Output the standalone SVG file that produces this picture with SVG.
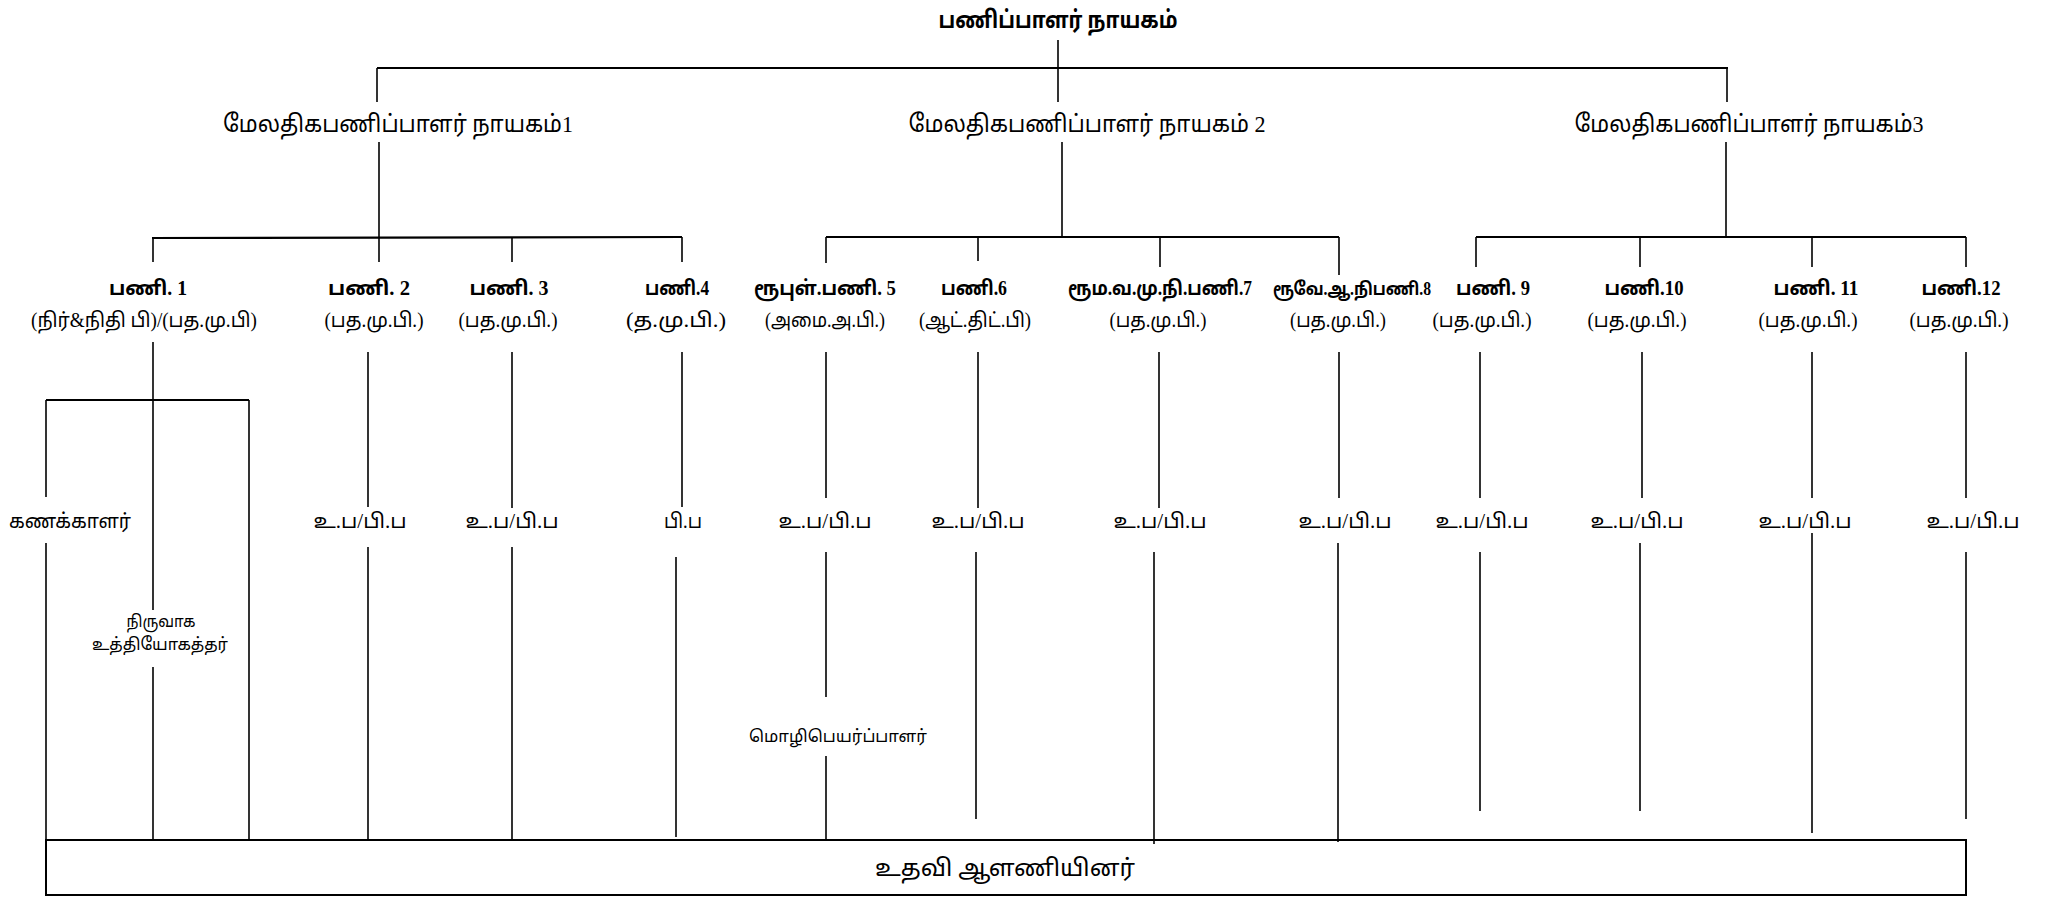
<svg xmlns="http://www.w3.org/2000/svg" width="2055" height="898" viewBox="0 0 2055 898">
<style>
text{font-family:"Liberation Serif","Noto Sans Tamil","Noto Serif Tamil",serif;fill:#000;text-anchor:middle}
.h0{font-size:24px;font-weight:bold}
.h1{font-size:24px}
.r1{font-size:20px;font-weight:bold}
.r1.tight{font-size:18px}
.r2{font-size:20px}
.lb{font-size:20px}
.sm{font-size:17px}
.ft{font-size:24px}
.ln line,.ln path{stroke:#000;stroke-width:1.6;fill:none}
.ln .hz{stroke-width:2.2}
</style>
<rect width="2055" height="898" fill="#fff"/>
<g id="connectors" class="ln">
<line x1="1058" y1="40" x2="1058" y2="102"/>
<line class="hz" x1="377" y1="68" x2="1728" y2="68"/>
<line x1="377" y1="68" x2="377" y2="102"/>
<line x1="1727" y1="68" x2="1727" y2="102"/>
<line x1="379" y1="142" x2="379" y2="262"/>
<line x1="1062" y1="142" x2="1062" y2="237"/>
<line x1="1726" y1="142" x2="1726" y2="237"/>
<line class="hz" x1="152" y1="238" x2="682" y2="237"/>
<line class="hz" x1="826" y1="237" x2="1339" y2="237"/>
<line class="hz" x1="1476" y1="237" x2="1966" y2="237"/>
<line x1="153" y1="238" x2="153" y2="262"/>
<line x1="512" y1="237" x2="512" y2="262"/>
<line x1="682" y1="237" x2="682" y2="262"/>
<line x1="826" y1="237" x2="826" y2="263"/>
<line x1="978" y1="237" x2="978" y2="261"/>
<line x1="1160" y1="237" x2="1160" y2="267"/>
<line x1="1339" y1="237" x2="1339" y2="275"/>
<line x1="1476" y1="237" x2="1476" y2="267"/>
<line x1="1640" y1="237" x2="1640" y2="267"/>
<line x1="1812" y1="237" x2="1812" y2="267"/>
<line x1="1966" y1="237" x2="1966" y2="267"/>
<line x1="153" y1="342" x2="153" y2="610"/>
<line class="hz" x1="46" y1="400" x2="249" y2="400"/>
<line x1="46" y1="400" x2="46" y2="497"/>
<line x1="46" y1="543" x2="46" y2="840"/>
<line x1="153" y1="667" x2="153" y2="840"/>
<line x1="249" y1="400" x2="249" y2="840"/>
<line x1="368" y1="352" x2="368" y2="507"/>
<line x1="368" y1="547" x2="368" y2="840"/>
<line x1="512" y1="352" x2="512" y2="508"/>
<line x1="512" y1="547" x2="512" y2="840"/>
<line x1="682" y1="352" x2="682" y2="507"/>
<line x1="676" y1="557" x2="676" y2="837"/>
<line x1="826" y1="352" x2="826" y2="498"/>
<line x1="826" y1="552" x2="826" y2="697"/>
<line x1="826" y1="756" x2="826" y2="840"/>
<line x1="978" y1="352" x2="978" y2="508"/>
<line x1="976" y1="552" x2="976" y2="819"/>
<line x1="1159" y1="352" x2="1159" y2="508"/>
<line x1="1154" y1="552" x2="1154" y2="844"/>
<line x1="1339" y1="352" x2="1339" y2="498"/>
<line x1="1338" y1="543" x2="1338" y2="842"/>
<line x1="1480" y1="352" x2="1480" y2="498"/>
<line x1="1480" y1="552" x2="1480" y2="811"/>
<line x1="1642" y1="352" x2="1642" y2="498"/>
<line x1="1640" y1="543" x2="1640" y2="811"/>
<line x1="1812" y1="352" x2="1812" y2="498"/>
<line x1="1812" y1="533" x2="1812" y2="833"/>
<line x1="1966" y1="352" x2="1966" y2="498"/>
<line x1="1966" y1="552" x2="1966" y2="819"/>
</g>
<g id="n-top"><text class="h0" x="1058" y="28" textLength="239" lengthAdjust="spacingAndGlyphs">பணிப்பாளர் நாயகம்</text></g>
<g id="n-md1"><text class="h1" x="398" y="132" textLength="350" lengthAdjust="spacingAndGlyphs">மேலதிகபணிப்பாளர் நாயகம்1</text></g>
<g id="n-md2"><text class="h1" x="1087" y="132" textLength="357" lengthAdjust="spacingAndGlyphs">மேலதிகபணிப்பாளர் நாயகம் 2</text></g>
<g id="n-md3"><text class="h1" x="1749" y="132" textLength="349" lengthAdjust="spacingAndGlyphs">மேலதிகபணிப்பாளர் நாயகம்3</text></g>
<g id="n-p1"><text class="r1" x="148" y="295" textLength="78" lengthAdjust="spacingAndGlyphs">பணி. 1</text><text class="r2" x="144" y="327" textLength="226" lengthAdjust="spacingAndGlyphs">(நிர்&amp;நிதி பி)/(பத.மு.பி)</text></g>
<g id="n-p2"><text class="r1" x="369" y="295" textLength="82" lengthAdjust="spacingAndGlyphs">பணி. 2</text><text class="r2" x="374" y="327" textLength="99" lengthAdjust="spacingAndGlyphs">(பத.மு.பி.)</text></g>
<g id="n-p3"><text class="r1" x="509" y="295" textLength="79" lengthAdjust="spacingAndGlyphs">பணி. 3</text><text class="r2" x="508" y="327" textLength="99" lengthAdjust="spacingAndGlyphs">(பத.மு.பி.)</text></g>
<g id="n-p4"><text class="r1" x="677" y="295" textLength="64" lengthAdjust="spacingAndGlyphs">பணி.4</text><text class="r2" x="676" y="327" textLength="100" lengthAdjust="spacingAndGlyphs">(த.மு.பி.)</text></g>
<g id="n-p5"><text class="r1" x="825" y="295" textLength="142" lengthAdjust="spacingAndGlyphs">ரூபுள்.பணி. 5</text><text class="r2" x="825" y="327" textLength="120" lengthAdjust="spacingAndGlyphs">(அமை.அ.பி.)</text></g>
<g id="n-p6"><text class="r1" x="974" y="295" textLength="66" lengthAdjust="spacingAndGlyphs">பணி.6</text><text class="r2" x="975" y="327" textLength="112" lengthAdjust="spacingAndGlyphs">(ஆட்.திட்.பி)</text></g>
<g id="n-p7"><text class="r1" x="1160" y="295" textLength="184" lengthAdjust="spacingAndGlyphs">ரூம.வ.மு.நி.பணி.7</text><text class="r2" x="1158" y="327" textLength="97" lengthAdjust="spacingAndGlyphs">(பத.மு.பி.)</text></g>
<g id="n-p8"><text class="r1 tight" x="1352" y="295" textLength="158" lengthAdjust="spacingAndGlyphs">ரூவே.ஆ.நிபணி.8</text><text class="r2" x="1338" y="327" textLength="96" lengthAdjust="spacingAndGlyphs">(பத.மு.பி.)</text></g>
<g id="n-p9"><text class="r1" x="1493" y="295" textLength="74" lengthAdjust="spacingAndGlyphs">பணி. 9</text><text class="r2" x="1482" y="327" textLength="99" lengthAdjust="spacingAndGlyphs">(பத.மு.பி.)</text></g>
<g id="n-p10"><text class="r1" x="1644" y="295" textLength="79" lengthAdjust="spacingAndGlyphs">பணி.10</text><text class="r2" x="1637" y="327" textLength="99" lengthAdjust="spacingAndGlyphs">(பத.மு.பி.)</text></g>
<g id="n-p11"><text class="r1" x="1816" y="295" textLength="85" lengthAdjust="spacingAndGlyphs">பணி. 11</text><text class="r2" x="1808" y="327" textLength="99" lengthAdjust="spacingAndGlyphs">(பத.மு.பி.)</text></g>
<g id="n-p12"><text class="r1" x="1961" y="295" textLength="79" lengthAdjust="spacingAndGlyphs">பணி.12</text><text class="r2" x="1959" y="327" textLength="99" lengthAdjust="spacingAndGlyphs">(பத.மு.பி.)</text></g>
<g id="n-acc"><text class="lb" x="70" y="528" textLength="122" lengthAdjust="spacingAndGlyphs">கணக்காளர்</text></g>
<g id="n-admin"><text class="sm" x="161" y="627" textLength="69" lengthAdjust="spacingAndGlyphs">நிருவாக</text><text class="sm" x="160" y="650" textLength="136" lengthAdjust="spacingAndGlyphs">உத்தியோகத்தர்</text></g>
<g id="n-s2"><text class="lb" x="360" y="528" textLength="93" lengthAdjust="spacingAndGlyphs">உ.ப/பி.ப</text></g>
<g id="n-s3"><text class="lb" x="512" y="528" textLength="93" lengthAdjust="spacingAndGlyphs">உ.ப/பி.ப</text></g>
<g id="n-s4"><text class="lb" x="683" y="528" textLength="38" lengthAdjust="spacingAndGlyphs">பி.ப</text></g>
<g id="n-s5"><text class="lb" x="825" y="528" textLength="93" lengthAdjust="spacingAndGlyphs">உ.ப/பி.ப</text></g>
<g id="n-s6"><text class="lb" x="978" y="528" textLength="93" lengthAdjust="spacingAndGlyphs">உ.ப/பி.ப</text></g>
<g id="n-s7"><text class="lb" x="1160" y="528" textLength="93" lengthAdjust="spacingAndGlyphs">உ.ப/பி.ப</text></g>
<g id="n-s8"><text class="lb" x="1345" y="528" textLength="93" lengthAdjust="spacingAndGlyphs">உ.ப/பி.ப</text></g>
<g id="n-s9"><text class="lb" x="1482" y="528" textLength="93" lengthAdjust="spacingAndGlyphs">உ.ப/பி.ப</text></g>
<g id="n-s10"><text class="lb" x="1637" y="528" textLength="93" lengthAdjust="spacingAndGlyphs">உ.ப/பி.ப</text></g>
<g id="n-s11"><text class="lb" x="1805" y="528" textLength="93" lengthAdjust="spacingAndGlyphs">உ.ப/பி.ப</text></g>
<g id="n-s12"><text class="lb" x="1973" y="528" textLength="93" lengthAdjust="spacingAndGlyphs">உ.ப/பி.ப</text></g>
<g id="n-trans"><text class="sm" x="838" y="742" textLength="178" lengthAdjust="spacingAndGlyphs">மொழிபெயர்ப்பாளர்</text></g>
<g id="n-support"><rect x="46" y="840" width="1920" height="55" fill="none" stroke="#000" stroke-width="2"/><text class="ft" x="1005" y="876" textLength="260" lengthAdjust="spacingAndGlyphs">உதவி ஆளணியினர்</text></g>
</svg>
